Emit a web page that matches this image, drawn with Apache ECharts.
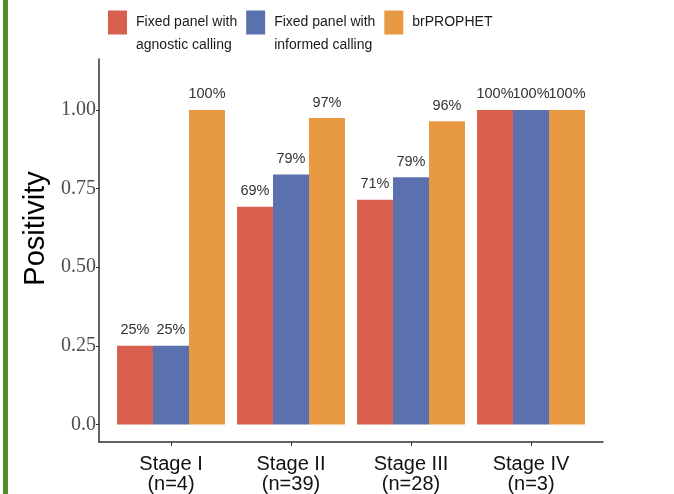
<!DOCTYPE html>
<html>
<head>
<meta charset="utf-8">
<script src="https://cdn.jsdelivr.net/npm/echarts@6/dist/echarts.min.js"></script>
<style>
  html, body { margin: 0; padding: 0; background: #fff; }
  #chart { width: 674px; height: 494px; }
</style>
</head>
<body>
<div id="chart"></div>
<script>
var categories = ['Stage I\n(n=4)', 'Stage II\n(n=39)', 'Stage III\n(n=28)', 'Stage IV\n(n=3)'];
var seriesNames = ['Fixed panel with\nagnostic calling', 'Fixed panel with\ninformed calling', 'brPROPHET'];
var agnosticValues = [0.25, 0.692, 0.714, 1.0];
var informedValues = [0.25, 0.7949, 0.786, 1.0];
var prophetValues = [1.0, 0.974, 0.964, 1.0];
var yTicks = [0, 0.25, 0.5, 0.75, 1];
var colors = ['#D9604F', '#5B71AE', '#E89A42'];

// 把类别序号当作x坐标(ggplot风格, 两边各留0.6)
function toPairs(values) {
    return values.map(function (v, i) { return [i + 1, v]; });
}

function makeSeries(name, values, color) {
    return {
        name: name,
        type: 'bar',
        data: toPairs(values),
        barWidth: 36,
        barGap: '0%',
        itemStyle: {color: color},
        label: {
            show: true,
            position: 'top',
            distance: 8,
            fontFamily: 'Liberation Sans',
            fontSize: 14.5,
            color: '#333',
            formatter: function (p) { return Math.round(p.value[1] * 100) + '%'; }
        }
    };
}

var chart = echarts.init(document.getElementById('chart'));
var option = {
    animation: false,
    graphic: [{
        type: 'rect',
        left: 3, top: 0,
        shape: {width: 5, height: 494},
        style: {fill: '#4e8f24'}
    }],
    legend: {
        left: 108,
        top: -12,
        padding: 0,
        itemWidth: 19,
        itemHeight: 24,
        itemGap: 9,
        icon: 'rect',
        // 图例文字比色块低半行: 前面加空行
        formatter: function (name) {
            return '\n' + (name.indexOf('\n') < 0 ? name + '\n ' : name);
        },
        textStyle: {
            fontFamily: 'Liberation Sans',
            fontSize: 14,
            lineHeight: 23,
            color: '#1a1a1a',
            padding: [0, 0, 0, 4]
        },
        data: seriesNames
    },
    grid: {left: 99, right: 71, top: 59, bottom: 52},
    xAxis: {
        type: 'value',
        min: 0.4,
        max: 4.6,
        splitLine: {show: false},
        axisLine: {show: true, onZero: false, lineStyle: {color: '#333', width: 1.5}},
        axisTick: {show: true, length: 4, customValues: [1, 2, 3, 4], lineStyle: {color: '#333'}},
        axisLabel: {
            customValues: [1, 2, 3, 4],
            margin: 12,
            fontFamily: 'Liberation Sans',
            fontSize: 20,
            lineHeight: 20,
            color: '#111',
            formatter: function (v) { return categories[Math.round(v) - 1] || ''; }
        }
    },
    yAxis: {
        type: 'value',
        min: -0.056,
        max: 1.162,
        name: 'Positivity',
        nameLocation: 'middle',
        nameGap: 41,
        nameTextStyle: {
            fontFamily: 'Liberation Sans',
            fontSize: 29,
            color: '#000',
            padding: [0, 0, 0, 44]
        },
        splitLine: {show: false},
        axisLine: {show: true, onZero: false, lineStyle: {color: '#333', width: 1.5}},
        axisTick: {show: true, length: 3, customValues: yTicks, lineStyle: {color: '#333'}},
        axisLabel: {
            customValues: yTicks,
            margin: 3,
            fontFamily: 'Liberation Serif',
            fontSize: 20,
            color: '#4d4d4d',
            formatter: function (v) { return v === 0 ? '0.0' : v.toFixed(2); }
        }
    },
    series: [
        makeSeries(seriesNames[0], agnosticValues, colors[0]),
        makeSeries(seriesNames[1], informedValues, colors[1]),
        makeSeries(seriesNames[2], prophetValues, colors[2])
    ]
};
chart.setOption(option);
</script>
</body>
</html>
